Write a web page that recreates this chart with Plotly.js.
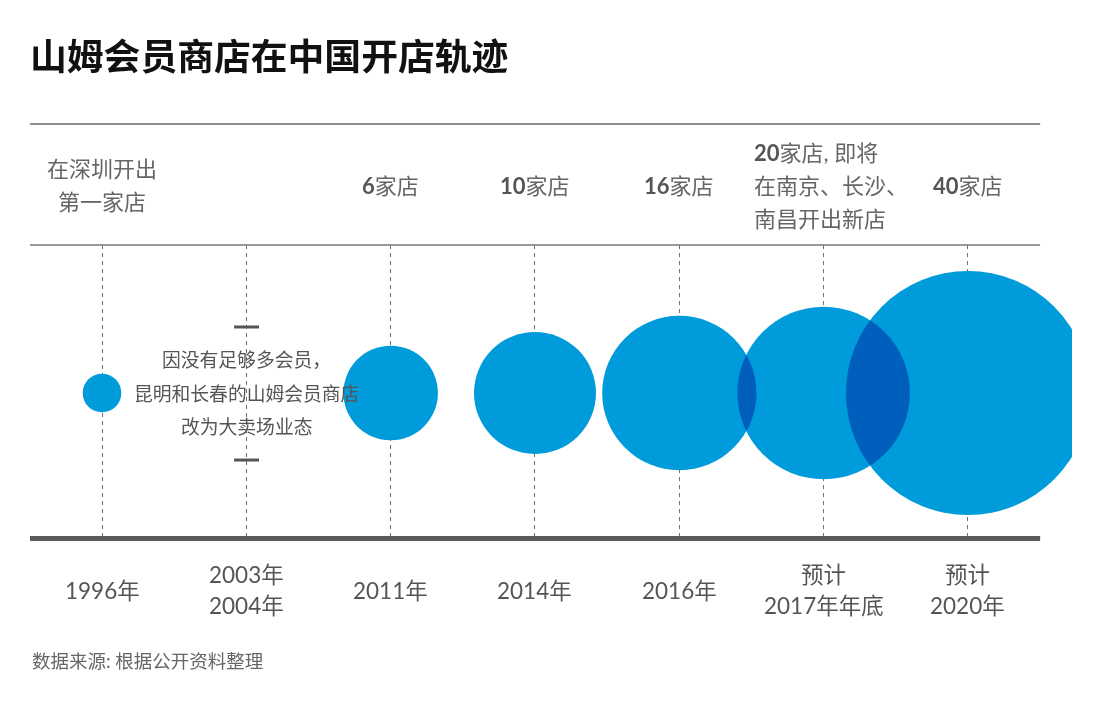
<!DOCTYPE html>
<html>
<head>
<meta charset="utf-8">
<script src="https://cdn.plot.ly/plotly-3.0.1.min.js"></script>
<style>
  html, body { margin: 0; padding: 0; background: #fff; }
  #chart { width: 1094px; height: 710px; }
  #chart .scatterlayer path.point { mix-blend-mode: multiply; }
</style>
</head>
<body>
<div id="chart"></div>
<script>
// ---- data ----
const categories = ["1996年", "2003年<br>2004年", "2011年", "2014年", "2016年", "预计<br>2017年年底", "预计<br>2020年"];
const storeCounts = [1, null, 6, 10, 16, 20, 40];
const headerNotes = ["在深圳开出<br>第一家店", "", "6家店", "10家店", "16家店", "20家店, 即将<br>在南京、长沙、<br>南昌开出新店", "40家店"];
const note2003 = ["因没有足够多会员，", "昆明和长春的山姆会员商店", "改为大卖场业态"];
const chartTitle = "山姆会员商店在中国开店轨迹";
const sourceText = "数据来源: 根据公开资料整理";

// ---- build ----
const FONT = "Lato, 'Noto Sans CJK SC', sans-serif";
const idx = categories.map((_, i) => i);
const bx = [], by = [], bs = [];
storeCounts.forEach((c, i) => { if (c != null) { bx.push(i); by.push(0); bs.push(c); } });

const bubbles = {
  type: 'scatter', mode: 'markers',
  x: bx, y: by,
  marker: { size: bs, sizemode: 'area', sizeref: 20 / (122 * 122), color: '#009BDB', line: { width: 0 }, opacity: 1 },
  hoverinfo: 'skip', showlegend: false
};

const annotations = [];
// header notes (one annotation per line)
const HEAD_Y = 185, HEAD_LH = 33;
headerNotes.forEach((txt, i) => {
  if (!txt) return;
  const lines = txt.split('<br>');
  lines.forEach((ln, k) => {
    const off = (k - (lines.length - 1) / 2) * HEAD_LH;
    const styled = ln.replace(/^(\d+)/, '<b style="color:#555">$1</b>');
    const leftBlock = lines.length > 2;
    annotations.push({
      xref: 'x', yref: 'paper', x: i, y: (541 - (HEAD_Y + off)) / 296,
      xanchor: leftBlock ? 'left' : 'center', xshift: leftBlock ? -72 : 0,
      yanchor: 'middle', showarrow: false, text: styled,
      font: { family: FONT, size: 22, color: '#666' }
    });
  });
});
// category labels
const TICK_Y = 590, TICK_LH = 31;
categories.forEach((txt, i) => {
  const lines = txt.split('<br>');
  lines.forEach((ln, k) => {
    const off = (k - (lines.length - 1) / 2) * TICK_LH;
    annotations.push({
      xref: 'x', yref: 'paper', x: i, y: (541 - (TICK_Y + off)) / 296,
      xanchor: 'center', yanchor: 'middle', showarrow: false, text: ln,
      font: { family: FONT, size: 22.5, color: '#555' }
    });
  });
});
// 2003/2004 note
note2003.forEach((ln, k) => {
  annotations.push({
    xref: 'x', yref: 'y', x: 1, y: 0, yshift: -(k - 1) * 33.5,
    xanchor: 'center', yanchor: 'middle', showarrow: false, text: ln,
    font: { family: FONT, size: 18.8, color: '#555' }
  });
});
// source
annotations.push({
  xref: 'paper', yref: 'paper', x: 0, y: (541 - 661) / 296,
  xanchor: 'left', yanchor: 'middle', showarrow: false, text: sourceText,
  font: { family: FONT, size: 18.5, color: '#666' }
});

const shapes = [
  // header lines
  { type: 'line', xref: 'x', yref: 'paper', x0: -0.5, x1: 6.5, y0: (541 - 124) / 296, y1: (541 - 124) / 296, line: { color: '#666', width: 1.3 } },
  { type: 'line', xref: 'x', yref: 'paper', x0: -0.5, x1: 6.5, y0: 1, y1: 1, line: { color: '#777', width: 1.3 } },
  // bottom bar
  { type: 'line', xref: 'x', yref: 'y', x0: -0.5, x1: 6.5, y0: -1, y1: -1, line: { color: '#5a5a5a', width: 10 }, layer: 'above' },
  // white gap behind 2003 note
  { type: 'rect', xref: 'x', yref: 'y', x0: 0.97, x1: 1.03, y0: -0.44, y1: 0.44, fillcolor: '#fff', line: { width: 0 }, layer: 'below' },
  // whisker bars
  { type: 'line', xref: 'x', yref: 'y', x0: 0.915, x1: 1.088, y0: 0.446, y1: 0.446, line: { color: '#555', width: 3 } },
  { type: 'line', xref: 'x', yref: 'y', x0: 0.915, x1: 1.088, y0: -0.453, y1: -0.453, line: { color: '#555', width: 3 } }
];

const layout = {
  width: 1094, height: 710,
  margin: { l: 30, r: 22, t: 245, b: 169, pad: 0 },
  paper_bgcolor: '#fff', plot_bgcolor: 'rgba(0,0,0,0)',
  showlegend: false,
  title: {
    text: '<b>' + chartTitle + '</b>',
    x: 30 / 1094, xref: 'container', xanchor: 'left',
    y: 1 - 57 / 710, yref: 'container', yanchor: 'middle',
    font: { family: "'Noto Sans CJK SC', sans-serif", size: 36.8, color: '#111' }
  },
  xaxis: {
    range: [-0.4989, 6.7207], tickvals: idx, showticklabels: false, ticks: '',
    showgrid: true, gridcolor: '#6f6f6f', gridwidth: 1, griddash: '4px,4px',
    zeroline: false, showline: false, fixedrange: true
  },
  yaxis: {
    range: [-1, 1], showgrid: false, zeroline: false, showline: false,
    showticklabels: false, ticks: '', fixedrange: true
  },
  shapes: shapes,
  annotations: annotations
};

Plotly.newPlot('chart', [bubbles], layout, { displayModeBar: false, staticPlot: true });
</script>
</body>
</html>
